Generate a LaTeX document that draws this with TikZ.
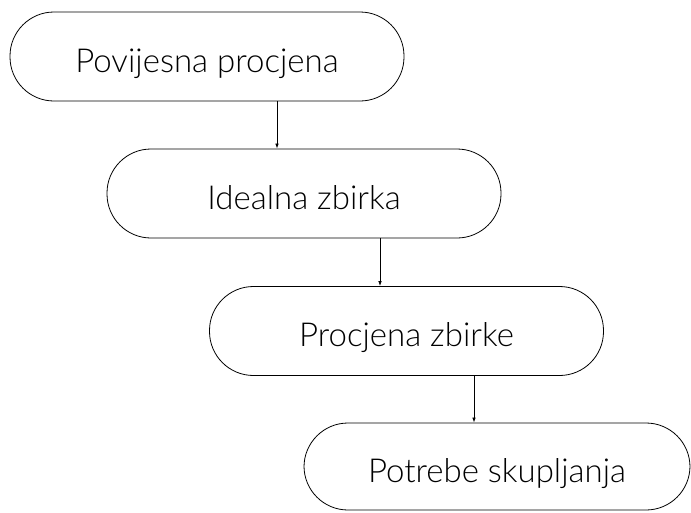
\documentclass[tikz,border=0pt]{standalone}
\usepackage{fontspec}
\setmainfont{Lato Light}
\usetikzlibrary{arrows.meta}

\tikzset{
  stage/.style={draw, line width=0.8pt, rounded corners=44pt,
    minimum height=89pt, minimum width=394pt, inner sep=0pt,
    text height=31pt, text depth=0pt,
    font=\fontsize{33}{36}\selectfont},
  link/.style={draw, line width=0.7pt, -{Latex[length=5pt,width=3.5pt]}}
}

\begin{document}
\begin{tikzpicture}[x=1pt,y=-1pt]
                \useasboundingbox (0,0) rectangle (691,512);
                \node[stage] (hist) at (207,56.5) {Povijesna procjena};
                \node[stage] (ideal) at (304,193.5) {Idealna zbirka};
                \node[stage] (proc) at (406.5,331) {Procjena zbirke};
                \node[stage, minimum width=386pt, minimum height=87pt] (potr) at (497,466.5) {Potrebe skupljanja};
                \draw[link] ([xshift=70pt]hist.south) -- ([xshift=-27pt]ideal.north);
                \draw[link] ([xshift=76pt]ideal.south) -- ([xshift=-26.5pt]proc.north);
                \draw[link] ([xshift=67.5pt]proc.south) -- ([xshift=-23pt]potr.north);
            \end{tikzpicture}
\end{document}
